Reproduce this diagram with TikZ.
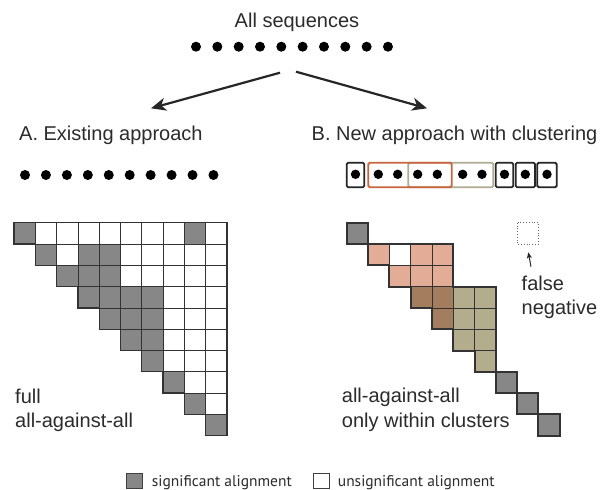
\documentclass[tikz,border=0pt]{standalone}
\usepackage{fontspec}
\setmainfont{Liberation Sans}
\newfontfamily\legendfont{PT Sans}
\usetikzlibrary{arrows.meta}
\definecolor{sig}{HTML}{878787}
\definecolor{salmon}{HTML}{E3AC97}
\definecolor{brownc}{HTML}{A47C5E}
\definecolor{olive}{HTML}{B3AC8D}
\definecolor{gridline}{HTML}{333333}
\definecolor{txt}{HTML}{2B2B2B}
\definecolor{redbox}{HTML}{C8643F}
\definecolor{olivebox}{HTML}{B0AB92}
\tikzset{
  lbl/.style={font=\fontsize{20}{24}\selectfont, inner sep=0pt, text=txt},
  leg/.style={font=\legendfont\fontsize{15.5}{18}\selectfont, inner sep=0pt, text=txt},
  seqdot/.style={fill=black},
  cellthin/.style={draw=gridline, line width=0.8pt},
  outline/.style={draw=gridline, line width=1.3pt, line join=miter},
  outlineR/.style={draw=gridline, line width=2pt, line join=miter},
  seqbox/.style={draw=black!85, line width=1.8pt, rounded corners=1.5pt},
  bigarrow/.style={draw=black!85, line width=2.2pt, -{Stealth[length=15pt,width=13pt,inset=4.5pt]}},
  smallarrow/.style={draw=black!85, line width=1pt, -{Stealth[length=6pt,width=5pt,inset=1.5pt]}}
}
\def\cs{21.3}
\begin{document}
\begin{tikzpicture}[x=1pt,y=-1pt]
\useasboundingbox (0,0) rectangle (603,490);
\fill[white] (0,0) rectangle (603,490);

% title and top sequences
\node[lbl, anchor=base] (title) at (297,27) {All sequences};
\foreach \k in {0,...,9} \fill[seqdot] ({196+\k*21.33},46.7) circle (5);

% arrows
\coordinate (srcL) at (280,72.7);
\coordinate (tipL) at (151,108.3);
\coordinate (srcR) at (296,71.7);
\coordinate (tipR) at (427,108.3);
\draw[bigarrow] (srcL) -- (tipL);
\draw[bigarrow] (srcR) -- (tipR);

% headings
\node[lbl, anchor=base west] (hA) at (19,140) {A. Existing approach};
\node[lbl, anchor=base west] (hB) at (311.5,140) {B. New approach with clustering};

% left sequences
\foreach \k in {0,...,9} \fill[seqdot] ({25+\k*20.94},175) circle (5);

% right sequences with cluster boxes
\draw[seqbox, draw=olivebox] (408.3,162.7) rectangle (493.3,187.3);
\draw[seqbox, draw=redbox] (368.3,162.7) rectangle (451.7,187.3);
\draw[seqbox] (346.7,162.7) rectangle (364.3,187.3);
\draw[seqbox] (495.7,162.7) rectangle (513.3,187.3);
\draw[seqbox] (515.7,162.7) rectangle (535,187.3);
\draw[seqbox] (537.3,162.7) rectangle (556.7,187.3);
\foreach \x in {355.5,378.3,397.7,417.7,437.3,462.7,482,504.5,525.3,547}
  \fill[seqdot] (\x,174.3) circle (4.7);

% ---------- left matrix ----------
\begin{scope}[shift={(14,222.7)}]
  \foreach \i in {0,...,9}
    \foreach \j in {\i,...,9}
      \draw[cellthin, fill=white] ({\j*\cs},{\i*\cs}) rectangle +(\cs,\cs);
  \foreach \i/\j in {0/0,0/8,1/1,1/3,1/4,2/2,2/3,2/4,3/3,3/4,3/5,3/6,4/4,4/5,4/6,5/5,5/6,6/6,7/7,8/8,9/9}
    \draw[cellthin, fill=sig] ({\j*\cs},{\i*\cs}) rectangle +(\cs,\cs);
  \draw[outline] (0,0) -- ({10*\cs},0) -- ({10*\cs},{10*\cs}) -- ({9*\cs},{10*\cs})
    \foreach \k in {9,8,...,1} { -- ({\k*\cs},{\k*\cs}) -- ({(\k-1)*\cs},{\k*\cs}) } -- cycle;
\end{scope}

\node[lbl, anchor=base west] (fullA) at (15,403) {full};
\node[lbl, anchor=base west] (fullB) at (15,427) {all-against-all};

% ---------- right matrix ----------
\begin{scope}[shift={(346.7,222.7)}]
  \foreach \i/\j/\c in {1/1/salmon,1/2/white,1/3/salmon,1/4/salmon,2/2/salmon,2/3/salmon,2/4/salmon,
      3/3/brownc,3/4/brownc,4/4/brownc,
      3/5/olive,3/6/olive,4/5/olive,4/6/olive,5/5/olive,5/6/olive,6/6/olive}
    \draw[cellthin, fill=\c] ({\j*\cs},{\i*\cs}) rectangle +(\cs,\cs);
  \draw[outlineR] ({1*\cs},{1*\cs}) -- ({5*\cs},{1*\cs}) -- ({5*\cs},{3*\cs}) -- ({7*\cs},{3*\cs})
    -- ({7*\cs},{7*\cs}) -- ({6*\cs},{7*\cs}) -- ({6*\cs},{6*\cs}) -- ({5*\cs},{6*\cs})
    -- ({5*\cs},{5*\cs}) -- ({4*\cs},{5*\cs}) -- ({4*\cs},{4*\cs}) -- ({3*\cs},{4*\cs})
    -- ({3*\cs},{3*\cs}) -- ({2*\cs},{3*\cs}) -- ({2*\cs},{2*\cs}) -- ({1*\cs},{2*\cs}) -- cycle;
  \foreach \k in {0,7,8,9}
    \draw[outlineR, fill=sig] ({\k*\cs},{\k*\cs}) rectangle +(\cs,\cs);
  % false negative placeholder
  \draw[draw=black!60, line width=0.8pt, dotted] ({8*\cs},0) rectangle +(\cs,\cs);
\end{scope}

\coordinate (fnTail) at (531,266.7);
\coordinate (fnTip) at (528.3,252.3);
\draw[smallarrow] (fnTail) -- (fnTip);
\node[lbl, anchor=base west] (fnA) at (521.5,290) {false};
\node[lbl, anchor=base west] (fnB) at (521.5,314) {negative};

\node[lbl, anchor=base west] (clA) at (341.7,402) {all-against-all};
\node[lbl, anchor=base west] (clB) at (341.7,427) {only within clusters};

% ---------- legend ----------
\draw[draw=black!75, line width=0.8pt, fill=sig] (126,473.3) rectangle (142.3,488.3);
\node[leg, anchor=base west] (legA) at (151.7,486) {significant alignment};
\draw[draw=black!75, line width=0.8pt, fill=white] (313.3,473.3) rectangle (329.3,488.3);
\node[leg, anchor=base west] (legB) at (337.7,486) {unsignificant alignment};
\end{tikzpicture}
\end{document}
